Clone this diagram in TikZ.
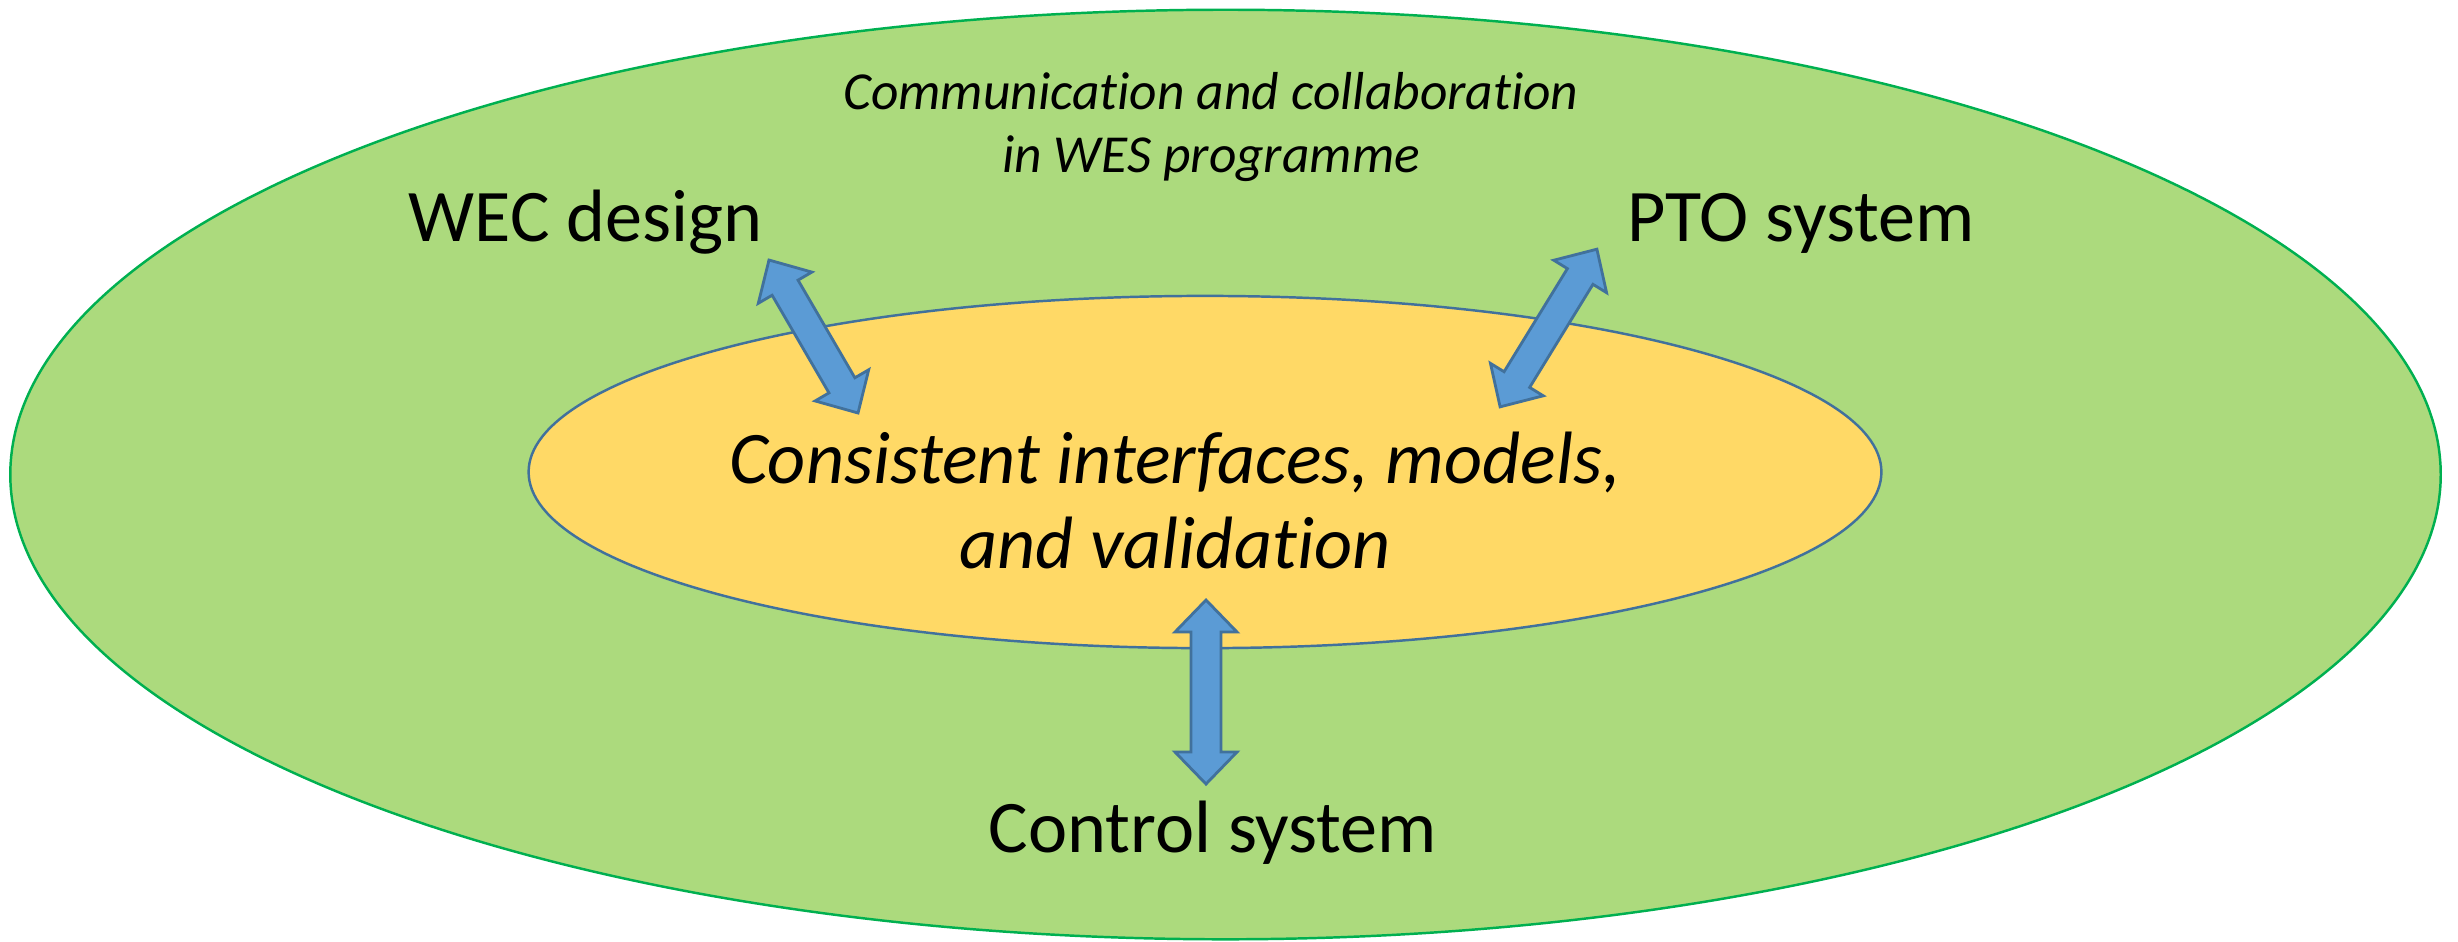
\documentclass[tikz,border=0pt]{standalone}
\usepackage{fontspec}
\setmainfont{Carlito}[Ligatures=NoCommon]
\usetikzlibrary{shapes.geometric}

\definecolor{outerfill}{HTML}{ACDA7D}
\definecolor{outerline}{HTML}{00B050}
\definecolor{innerfill}{HTML}{FFD966}
\definecolor{blueline}{HTML}{41719C}
\definecolor{bluefill}{HTML}{5B9BD5}

\tikzset{
  x=0.01cm, y=-0.01cm,
  outerring/.style={ellipse, draw=outerline, fill=outerfill, line width=0.7pt, inner sep=0pt},
  innerring/.style={ellipse, draw=blueline, fill=innerfill, line width=0.7pt, inner sep=0pt},
  label/.style={inner sep=0pt, anchor=base west, font=\fontsize{21.1}{24.1}\selectfont},
  blockarrow/.style={draw=blueline, fill=bluefill, line width=0.8pt, line join=miter},
  % double-headed block arrow along the local x axis, #1 = total length
  pics/dblarrow/.style={code={
    \draw[blockarrow]
      (-#1/2,0) -- (-#1/2+32,31) -- (-#1/2+32,15) -- (#1/2-32,15)
      -- (#1/2-32,31) -- (#1/2,0) -- (#1/2-32,-31) -- (#1/2-32,-15)
      -- (-#1/2+32,-15) -- (-#1/2+32,-31) -- cycle;
  }}
}

\begin{document}
\begin{tikzpicture}
\useasboundingbox (0,0) rectangle (2458,941);

% rings
\node[outerring, minimum width=24.29cm, minimum height=9.29cm] (outer) at (1225.5,474.5) {};
\node[innerring, minimum width=13.52cm, minimum height=3.52cm] (inner) at (1205,472) {};

% labels (multi-line nodes sit on the baseline of their last line)
\node[label] (wec) at (408,241) {WEC design};
\node[label] (pto) at (1627,241) {PTO system};
\node[label] (ctrl) at (988,852) {Control system};
\node[inner sep=0pt, anchor=base, align=center,
      font=\fontsize{15.2}{17.64}\selectfont\itshape] (comm) at (1211,172)
      {Communication and collaboration\\in WES programme};
\node[inner sep=0pt, anchor=base, align=center,
      font=\fontsize{21.1}{24.1}\selectfont\itshape] (core) at (1175,568)
      {Consistent interfaces, models,\\and validation};

% block arrows between the labels and the core
\pic[rotate=120.2] (a1) at (813.5,336.5) {dblarrow=177};
\pic[rotate=58.45] (a2) at (1548.5,328) {dblarrow=185};
\pic[rotate=90] (a3) at (1206,692) {dblarrow=184};
\end{tikzpicture}
\end{document}
